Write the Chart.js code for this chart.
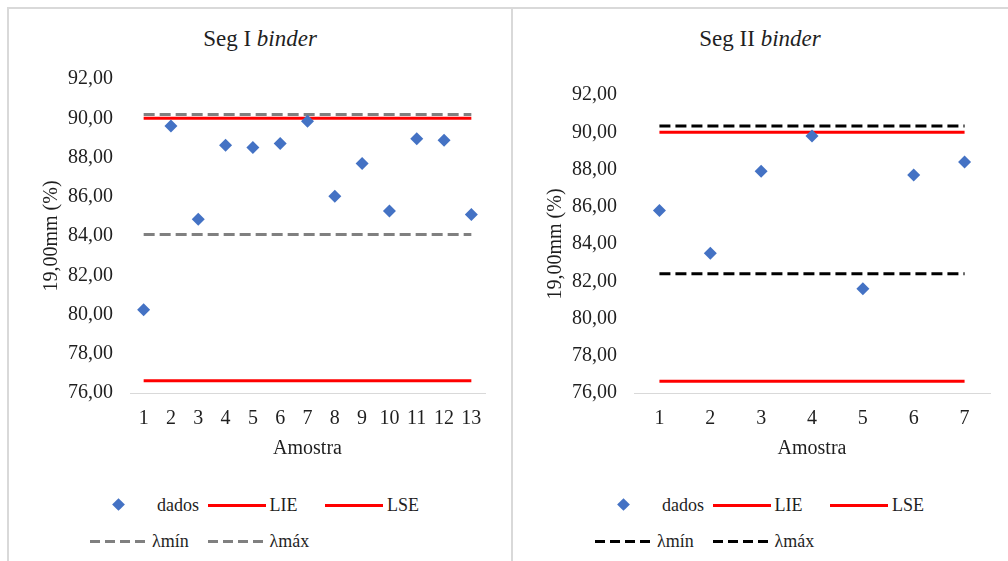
<!DOCTYPE html>
<html>
<head>
<meta charset="utf-8">
<script src="https://cdn.jsdelivr.net/npm/chart.js@4.4.1/dist/chart.umd.min.js"></script>
<style>
  body { margin:0; width:1008px; height:561px; overflow:hidden; background:#fff; position:relative;
         font-family:"Liberation Serif", "Times New Roman", serif; color:#1f1f1f; }
  .panel { position:absolute; top:7px; height:580px; border:2px solid #d9d9d9; box-sizing:border-box; }
  #p1 { left:7px; width:506px; }
  #p2 { left:511px; width:520px; }
  canvas { position:absolute; }
  .title { position:absolute; top:26px; font-size:23px; line-height:26px; text-align:center; }
  .leg { position:absolute; font-size:18px; line-height:20px; white-space:nowrap; font-family:"Liberation Serif", serif; }
  .sym { position:absolute; top:9px; width:58px; height:3px; }
  .dia { position:absolute; top:5px; left:24px; width:9px; height:9px; transform:rotate(45deg); background:#4472C4; }
</style>
</head>
<body>
<div class="panel" id="p1"></div>
<div class="panel" id="p2"></div>

<div class="title" style="left:8px;width:504px">Seg I <i>binder</i></div>
<div class="title" style="left:512px;width:496px">Seg II <i>binder</i></div>

<canvas id="chart1" width="504" height="460" style="left:8px;top:7px"></canvas>
<canvas id="chart2" width="496" height="460" style="left:512px;top:7px"></canvas>

<script>
// ---- data ----
const amostra1 = ['1','2','3','4','5','6','7','8','9','10','11','12','13'];
const dados1   = [80.24, 89.61, 84.85, 88.63, 88.51, 88.71, 89.85, 86.03, 87.70, 85.28, 88.95, 88.88, 85.10];
const lie1 = 76.63, lse1 = 90.00, lmin1 = 84.08, lmax1 = 90.19;

const amostra2 = ['1','2','3','4','5','6','7'];
const dados2   = [85.8, 83.5, 87.9, 89.8, 81.6, 87.7, 88.4];
const lie2 = 76.63, lse2 = 90.00, lmin2 = 82.4, lmax2 = 90.34;

const yTicks = [76, 78, 80, 82, 84, 86, 88, 90, 92];

const serif = '"Liberation Serif", "Times New Roman", serif';

// two points, first and last sample, for a flat limit line
function flat(labels, v) {
  return [{x: labels[0], y: v}, {x: labels[labels.length - 1], y: v}];
}

function makeChart(id, labels, dados, lie, lse, lmin, lmax, dashColor, padTop, padRight) {
  const ctx = document.getElementById(id).getContext('2d');
  return new Chart(ctx, {
    type: 'line',
    data: {
      labels: labels,
      datasets: [
        { label: 'dados', data: dados, showLine: false, pointStyle: 'rectRot', pointRadius: 6.5,
          pointBackgroundColor: '#4472C4', pointBorderWidth: 0, borderColor: '#4472C4', backgroundColor: '#4472C4' },
        { label: 'LIE', data: flat(labels, lie), borderColor: '#FF0000', borderWidth: 3, pointRadius: 0 },
        { label: 'LSE', data: flat(labels, lse), borderColor: '#FF0000', borderWidth: 3, pointRadius: 0 },
        { label: 'λmín', data: flat(labels, lmin), borderColor: dashColor, borderWidth: 3, borderDash: [11, 5], pointRadius: 0 },
        { label: 'λmáx', data: flat(labels, lmax), borderColor: dashColor, borderWidth: 3, borderDash: [11, 5], pointRadius: 0 }
      ]
    },
    options: {
      responsive: false,
      animation: false,
      layout: { padding: { left: 20, top: padTop, right: padRight, bottom: 0 } },
      plugins: { legend: { display: false }, tooltip: { enabled: false } },
      scales: {
        x: {
          offset: true,
          grid: { display: false, drawTicks: false },
          border: { display: true, color: '#d9d9d9', width: 1 },
          ticks: { color: '#1f1f1f', padding: 14, font: { family: serif, size: 20 } },
          title: { display: true, text: 'Amostra', color: '#1f1f1f', padding: { top: 0, bottom: 6 },
                   font: { family: serif, size: 20 } },
          afterFit: s => { s.height = 74; }
        },
        y: {
          min: 76, max: 92,
          grid: { display: false, drawTicks: false },
          border: { display: false },
          afterBuildTicks: s => { s.ticks = yTicks.map(v => ({ value: v })); },
          ticks: { color: '#1f1f1f', padding: 17, font: { family: serif, size: 20 } ,
                   callback: v => v.toFixed(2).replace('.', ',') },
          title: { display: true, text: '19,00mm (%)', color: '#1f1f1f', padding: { top: 12, bottom: 0 },
                   font: { family: serif, size: 20 } },
          afterFit: s => { s.width = 102; }
        }
      }
    }
  });
}

// legend built from the chart datasets, laid out like the original (3 per row)
function makeLegend(chart, x0, y0) {
  const colW = 117.5, rowH = 36;
  chart.data.datasets.forEach(function (ds, i) {
    const item = document.createElement('div');
    item.className = 'leg';
    item.style.left = (x0 + (i % 3) * colW) + 'px';
    item.style.top = (y0 + Math.floor(i / 3) * rowH) + 'px';
    let sym;
    if (ds.showLine === false) {
      sym = document.createElement('div');
      sym.className = 'dia';
    } else {
      sym = document.createElement('div');
      sym.className = 'sym';
      if (ds.borderDash) {
        sym.style.background = 'repeating-linear-gradient(90deg,' + ds.borderColor + ' 0 10px, transparent 10px 15px)';
      } else {
        sym.style.background = ds.borderColor;
      }
    }
    item.appendChild(sym);
    const txt = document.createElement('span');
    txt.style.position = 'absolute';
    txt.style.left = (ds.showLine === false ? 67 : 62) + 'px';
    txt.style.top = '0px';
    txt.textContent = ds.label;
    item.appendChild(txt);
    document.body.appendChild(item);
  });
}

const chart1 = makeChart('chart1', amostra1, dados1, lie1, lse1, lmin1, lmax1, '#808080', 72, 27);
const chart2 = makeChart('chart2', amostra2, dados2, lie2, lse2, lmin2, lmax2, '#000000', 88, 18);

makeLegend(chart1, 90, 495);
makeLegend(chart2, 595, 495);
</script>
</body>
</html>
